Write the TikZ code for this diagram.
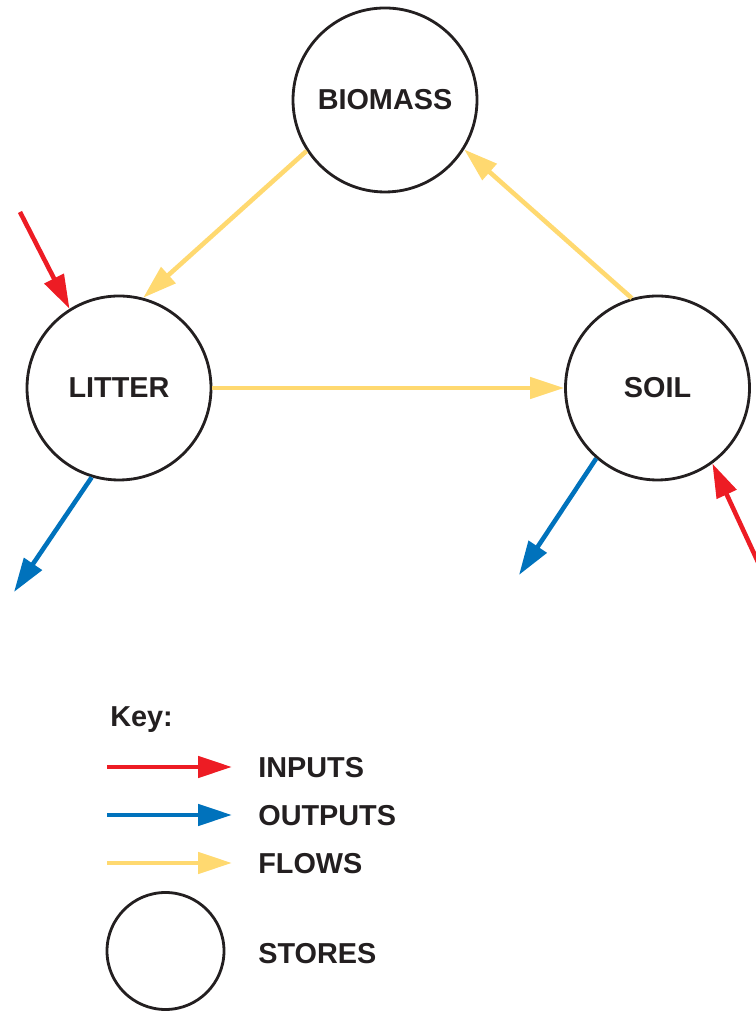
\documentclass[tikz,border=0pt]{standalone}
\usepackage{fontspec}
\setmainfont{Liberation Sans}
\usetikzlibrary{arrows.meta}
\definecolor{inred}{HTML}{ED1C24}
\definecolor{outblue}{HTML}{0072BC}
\definecolor{flowyellow}{HTML}{FFD970}
\definecolor{ink}{HTML}{231F20}
\tikzset{
  store/.style={circle,draw=ink,line width=1.6pt,minimum size=3.68cm,inner sep=0pt,
    text=ink,font=\fontsize{16.4}{19}\selectfont\bfseries},
  keystore/.style={store,minimum size=2.34cm},
  keytext/.style={anchor=west,inner sep=0pt,text=ink,font=\fontsize{16.4}{19}\selectfont\bfseries},
  arr/.style={line width=2.6pt,-{Triangle[length=0.68cm,width=0.42cm]}},
  input/.style={arr,inred},
  output/.style={arr,outblue},
  flow/.style={arr,flowyellow}
}
\begin{document}
\begin{tikzpicture}
\useasboundingbox (0,0) rectangle (15.10,20.24);
\node[store] (biomass) at (7.70,18.24) {BIOMASS};
\node[store] (litter) at (2.38,12.48) {LITTER};
\node[store] (soil) at (13.15,12.48) {SOIL};
\coordinate (litterin) at (0.40,16.00);
\coordinate (litterout) at (0.28,8.40);
\coordinate (soilin) at (15.40,8.48);
\coordinate (soilout) at (10.38,8.74);
\draw[flow] (biomass.213) -- (litter.75);
\draw[flow] (litter) -- (soil);
\draw[flow] (soil.106.7) -- (biomass.328.5);
\draw[input] (litterin) -- (litter.122);
\draw[input] (soilin) -- (soil.306.5);
\draw[output] (litter.253) -- (litterout);
\draw[output] (soil.229) -- (soilout);
\node[keytext] (key) at (2.20,5.84) {Key:};
\node[keytext] (inputs) at (5.16,4.88) {INPUTS};
\node[keytext] (outputs) at (5.16,3.92) {OUTPUTS};
\node[keytext] (flows) at (5.16,2.96) {FLOWS};
\node[keystore] (keycircle) at (3.31,1.22) {};
\node[keytext] (stores) at (5.16,1.16) {STORES};
\coordinate (ka) at (2.14,4.90);
\coordinate (kb) at (2.14,3.94);
\coordinate (kc) at (2.14,2.98);
\draw[input,shorten >=0.52cm] (ka) -- (ka -| inputs.west);
\draw[output,shorten >=0.52cm] (kb) -- (kb -| outputs.west);
\draw[flow,shorten >=0.52cm] (kc) -- (kc -| flows.west);
\end{tikzpicture}
\end{document}
